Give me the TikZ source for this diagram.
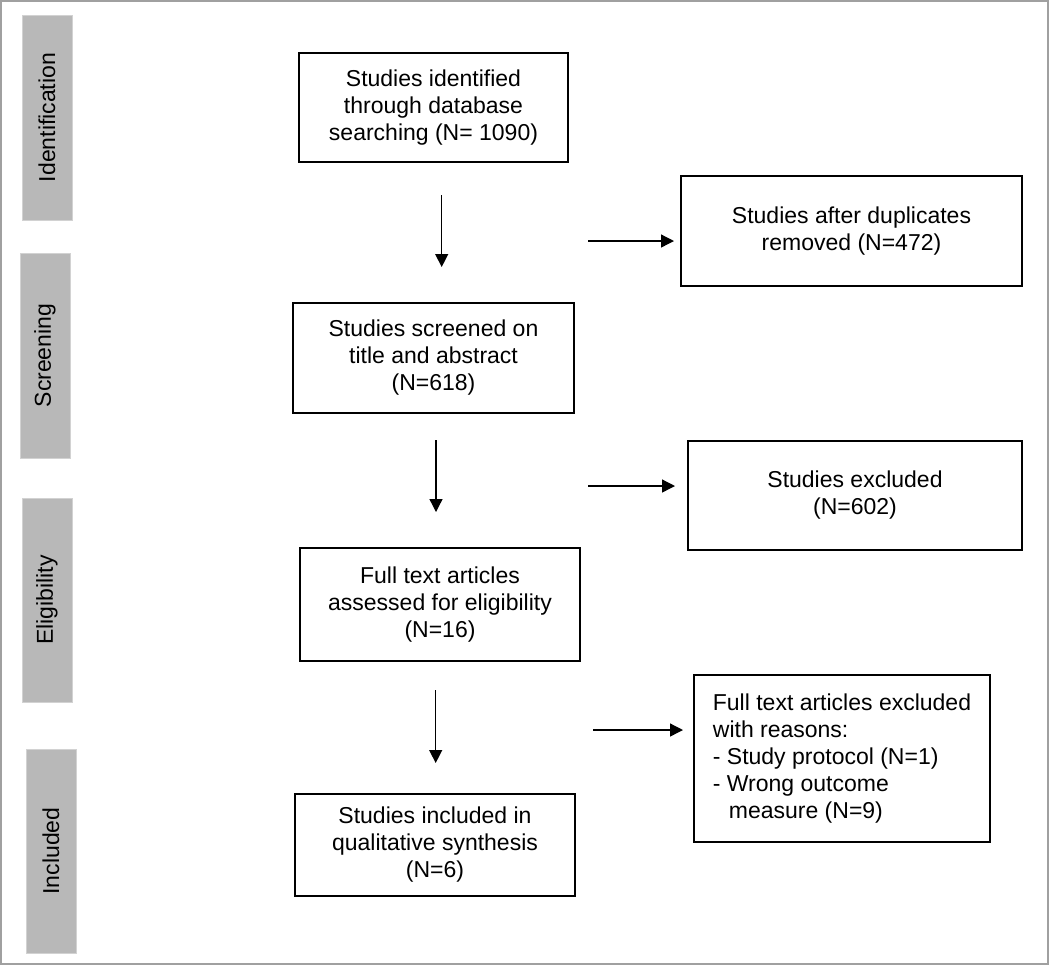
\documentclass[tikz,border=0pt]{standalone}
\usepackage{fontspec}
\setmainfont{Liberation Sans}
\usetikzlibrary{arrows.meta}
\definecolor{barfill}{HTML}{B8B8B8}
\definecolor{barline}{HTML}{D2D2D2}
\definecolor{frame}{HTML}{A0A0A0}
\begin{document}
\begin{tikzpicture}[x=0.5pt, y=-0.5pt,
	box/.style={draw, line width=1pt, inner sep=0pt, align=center, font=\fontsize{11.5}{13.5}\selectfont},
	stage/.style={draw=barline, fill=barfill, rotate=90, inner sep=0pt, minimum height=25pt, font=\fontsize{11.5}{13.5}\selectfont},
	flow/.style={-{Triangle[length=6.5pt, width=6.5pt]}, line width=0.65pt}]
	\useasboundingbox (0,0) rectangle (1050,966);
	\draw[frame, line width=1pt] (1,1) rectangle (1048,964);
	
	% stages
	\node[stage, minimum width=102.5pt] (7) at (47, 117.5) {Identification};
	\node[stage, minimum width=102.5pt] (8) at (45, 355.5) {Screening};
	\node[stage, minimum width=102pt] (9) at (47, 600) {Eligibility};
	\node[stage, minimum width=102pt] (10) at (51, 851) {Included};
	
	% boxes
	\node[box, minimum width=134.5pt, minimum height=54.5pt] (0) at (433.5, 107.5) {Studies identified\\through database\\searching (N= 1090)};
	\node[box, minimum width=170.5pt, minimum height=55pt] (1) at (851.5, 231) {Studies after duplicates\\removed (N=472)};
	\node[box, minimum width=140.5pt, minimum height=55pt] (2) at (433.5, 358) {Studies screened on\\title and abstract\\(N=618)};
	\node[box, minimum width=167pt, minimum height=54.5pt] (3) at (855, 495.5) {Studies excluded\\(N=602)};
	\node[box, minimum width=140pt, minimum height=56.5pt] (4) at (440, 604.5) {Full text articles\\assessed for eligibility\\(N=16)};
	\node[box, minimum width=140pt, minimum height=51pt] (5) at (435, 845) {Studies included in\\qualitative synthesis\\(N=6)};
	\node[box, minimum width=148pt, minimum height=83.5pt, align=left] (6) at (842, 758.5) {Full text articles excluded\\with reasons:\\- Study protocol (N=1)\\- Wrong outcome\\\hspace*{8pt}measure (N=9)};
	
	% arrow ends
	\coordinate (11) at (441.7, 195);
	\coordinate (12) at (441.7, 267);
	\coordinate (13) at (588, 241);
	\coordinate (14) at (674, 241);
	\coordinate (15) at (436, 440);
	\coordinate (16) at (436, 512);
	\coordinate (17) at (588, 486);
	\coordinate (18) at (675, 486);
	\coordinate (19) at (435.7, 690);
	\coordinate (20) at (435.7, 763);
	\coordinate (21) at (593, 730);
	\coordinate (22) at (683, 730);
	
	\path[flow]
	(11) edge (12)
	(13) edge (14)
	(15) edge (16)
	(17) edge (18)
	(19) edge (20)
	(21) edge (22)
	;
\end{tikzpicture}
\end{document}
